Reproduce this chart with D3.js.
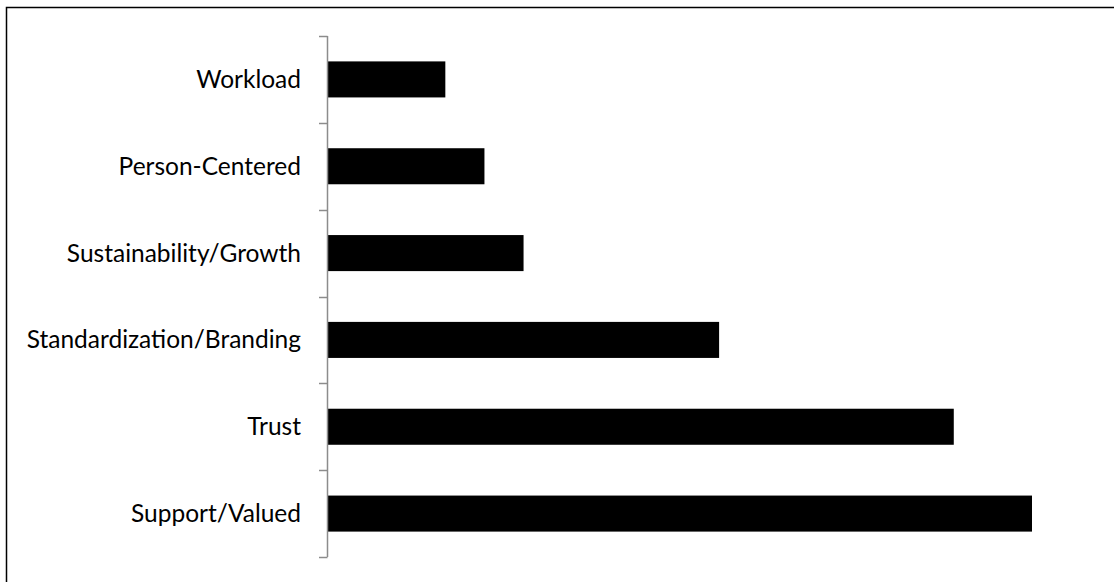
<!DOCTYPE html>
<html>
<head>
<meta charset="utf-8">
<script src="https://cdn.jsdelivr.net/npm/d3@7"></script>
<style>
  html, body { margin: 0; padding: 0; background: #fff; }
  svg { display: block; }
</style>
</head>
<body>
<div id="chart"></div>
<script>
// categories, top to bottom
const categories = ['Workload', 'Person-Centered', 'Sustainability/Growth',
    'Standardization/Branding', 'Trust', 'Support/Valued'];
const counts = [3, 4, 5, 10, 16, 18];

const svgWidth = 1114;
const svgHeight = 582;

const svg = d3.select('#chart')
    .append('svg')
    .attr('width', svgWidth)
    .attr('height', svgHeight);

// chart frame (only top and left edges are visible in the crop)
svg.append('path')
    .attr('d', `M6.5,${svgHeight} V7.5 H${svgWidth}`)
    .attr('fill', 'none')
    .attr('stroke', '#000')
    .attr('stroke-width', 1.5);

const axisX = 327;
const yScale = d3.scaleBand()
    .domain(categories)
    .range([36, 557])
    .paddingInner(0.585)
    .paddingOuter(0.2925);

const xScale = d3.scaleLinear()
    .domain([0, 18])
    .range([axisX + 1, 1032]);

const data = categories.map((c, i) => ({ name: c, value: counts[i] }));

svg.selectAll('.bar')
    .data(data)
    .enter()
    .append('rect')
    .attr('class', 'bar')
    .attr('x', xScale(0))
    .attr('y', d => yScale(d.name))
    .attr('width', d => xScale(d.value) - xScale(0))
    .attr('height', yScale.bandwidth())
    .attr('fill', '#000');

// axis line with tick marks at category boundaries
const step = yScale.step();
const boundaries = d3.range(categories.length + 1).map(i => 36 + i * step);

const axis = svg.append('g');
axis.append('line')
    .attr('x1', axisX + 0.5).attr('x2', axisX + 0.5)
    .attr('y1', 36).attr('y2', 557)
    .attr('stroke', '#8c8c8c')
    .attr('stroke-width', 1.5);

axis.selectAll('.tick')
    .data(boundaries)
    .enter()
    .append('line')
    .attr('class', 'tick')
    .attr('x1', 319).attr('x2', axisX + 0.5)
    .attr('y1', d => Math.round(d) + 0.5)
    .attr('y2', d => Math.round(d) + 0.5)
    .attr('stroke', '#8c8c8c')
    .attr('stroke-width', 1.5);

axis.selectAll('.label')
    .data(categories)
    .enter()
    .append('text')
    .attr('class', 'label')
    .attr('x', 301)
    .attr('y', d => yScale(d) + yScale.bandwidth() / 2)
    .attr('dy', '0.35em')
    .attr('text-anchor', 'end')
    .style('font-family', 'Lato, sans-serif')
    .style('font-size', '24.5px')
    .style('fill', '#000')
    .text(d => d);
</script>
</body>
</html>
